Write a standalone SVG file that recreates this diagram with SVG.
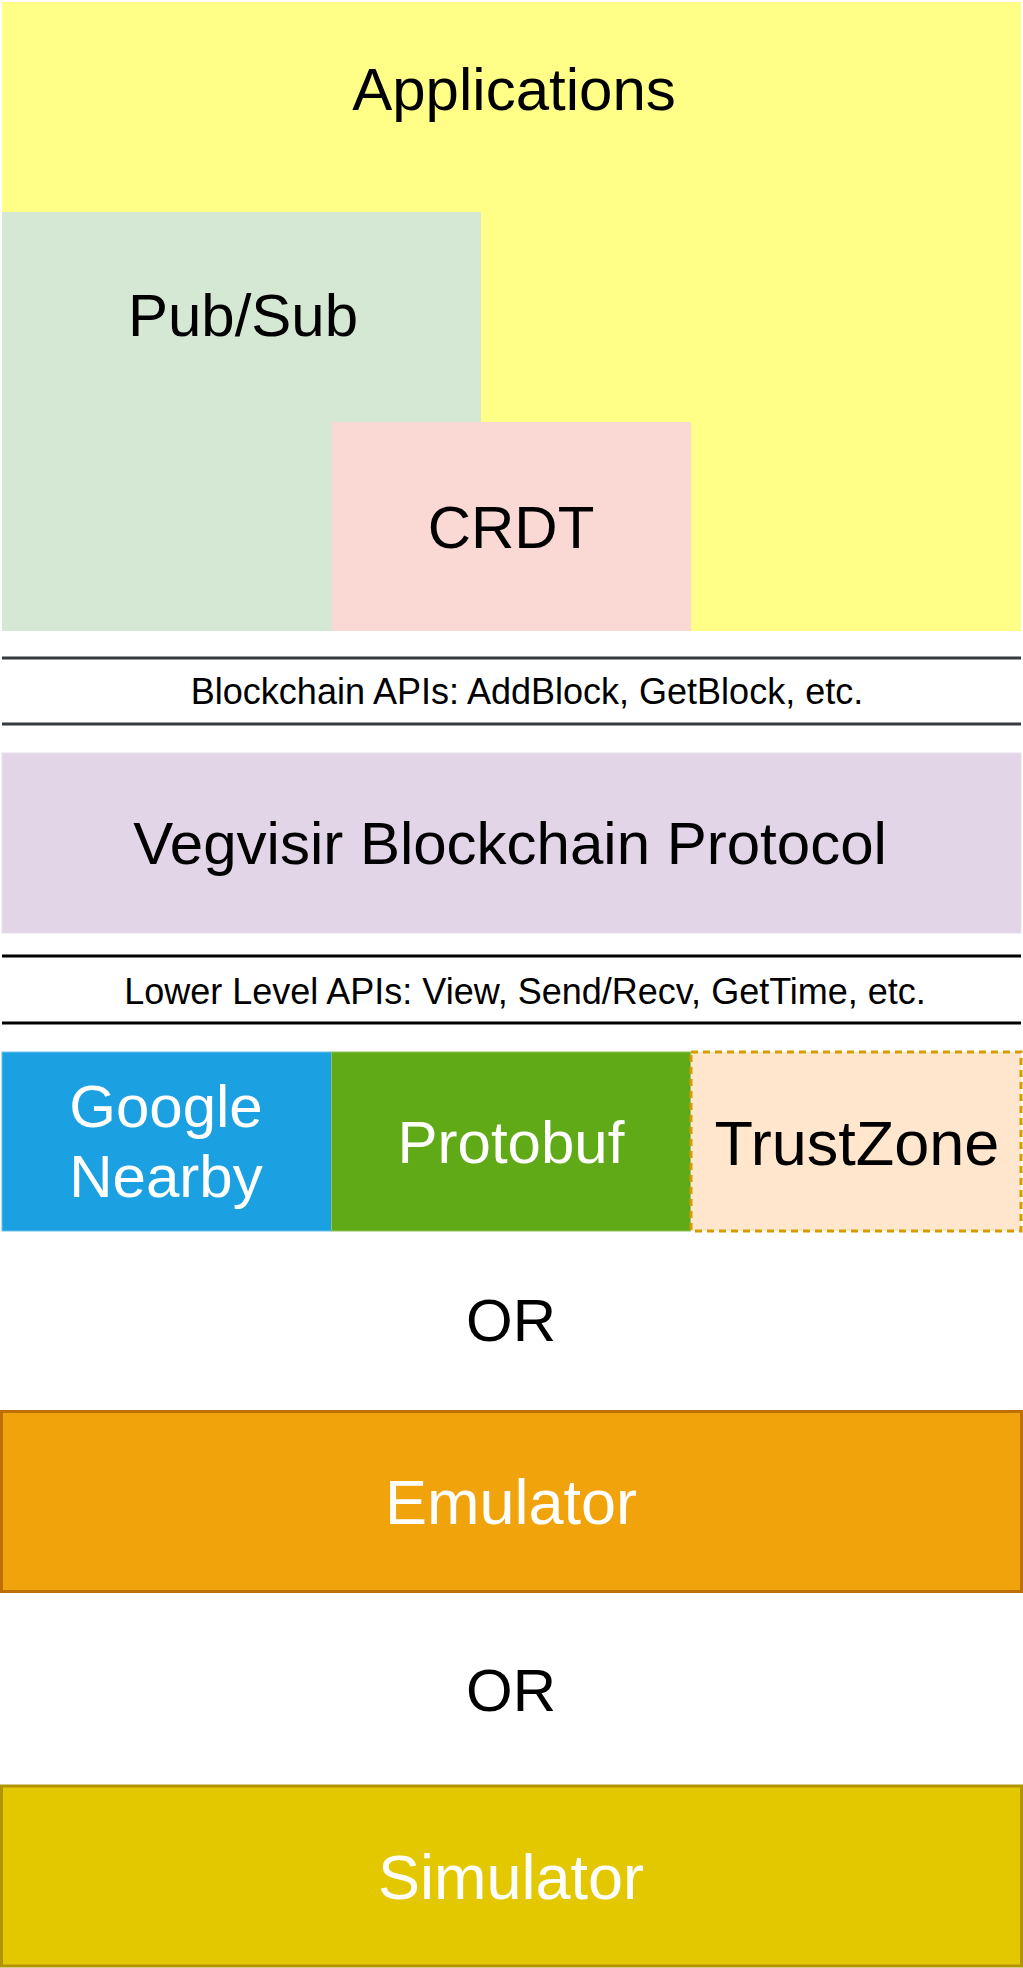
<svg xmlns="http://www.w3.org/2000/svg" width="1023" height="1968" viewBox="0 0 1023 1968">
  <style>
    text { font-family: "Liberation Sans", Arial, Helvetica, sans-serif; text-anchor: middle; }
    .big { font-size: 60px; }
    .bigger { font-size: 63px; }
    .small { font-size: 36px; }
    .dark { fill: #000000; }
    .light { fill: #ffffff; }
    .sep1 { stroke: #36393d; stroke-width: 3; }
    .sep2 { stroke: #000000; stroke-width: 3; }
  </style>
  <rect width="1023" height="1968" fill="#ffffff"/>
  <g id="applications">
    <rect x="2" y="2" width="1019" height="629" fill="#ffff88"/>
    <text class="big dark" x="514" y="110">Applications</text>
  </g>
  <g id="pubsub">
    <rect x="2" y="212" width="479" height="419" fill="#d5e8d4"/>
    <text class="big dark" x="243" y="336">Pub/Sub</text>
  </g>
  <g id="crdt">
    <rect x="331.5" y="422" width="359.5" height="209" fill="#fad9d5"/>
    <text class="big dark" x="511" y="548">CRDT</text>
  </g>
  <g id="connectors">
    <line class="sep1" x1="2" y1="658" x2="1021" y2="658"/>
    <line class="sep1" x1="2" y1="724" x2="1021" y2="724"/>
    <line class="sep2" x1="2" y1="956" x2="1021" y2="956"/>
    <line class="sep2" x1="2" y1="1023" x2="1021" y2="1023"/>
  </g>
  <g id="blockchain-apis">
    <text class="small dark" x="527" y="704">Blockchain APIs: AddBlock, GetBlock, etc.</text>
  </g>
  <g id="vegvisir">
    <rect x="2" y="753" width="1019" height="180" fill="#e1d5e7" stroke="#e8dfed" stroke-width="1"/>
    <text class="big dark" x="510" y="864">Vegvisir Blockchain Protocol</text>
  </g>
  <g id="lower-apis">
    <text class="small dark" x="525" y="1004">Lower Level APIs: View, Send/Recv, GetTime, etc.</text>
  </g>
  <g id="google-nearby">
    <rect x="2" y="1052" width="329.5" height="179" fill="#1ba1e2" stroke="#6cc0ea" stroke-width="1"/>
    <text class="big light" x="166" y="1127">Google</text>
    <text class="big light" x="166" y="1197">Nearby</text>
  </g>
  <g id="protobuf">
    <rect x="331.5" y="1052" width="359" height="179" fill="#60a917" stroke="#8dc45b" stroke-width="1"/>
    <text class="big light" x="511" y="1163">Protobuf</text>
  </g>
  <g id="trustzone">
    <rect x="691" y="1052" width="330" height="179" fill="#ffe6cc" stroke="#d79b00" stroke-width="3" stroke-dasharray="7 5"/>
    <text class="bigger dark" x="857" y="1165">TrustZone</text>
  </g>
  <g id="or1">
    <text class="big dark" x="511" y="1341">OR</text>
  </g>
  <g id="emulator">
    <rect x="1.5" y="1411.5" width="1020" height="180" fill="#f0a30a" stroke="#bd7000" stroke-width="3"/>
    <text class="bigger light" x="511" y="1524">Emulator</text>
  </g>
  <g id="or2">
    <text class="big dark" x="511" y="1711">OR</text>
  </g>
  <g id="simulator">
    <rect x="1.5" y="1786" width="1020" height="180" fill="#e3c800" stroke="#b09500" stroke-width="3"/>
    <text class="bigger light" x="511" y="1899">Simulator</text>
  </g>
</svg>
